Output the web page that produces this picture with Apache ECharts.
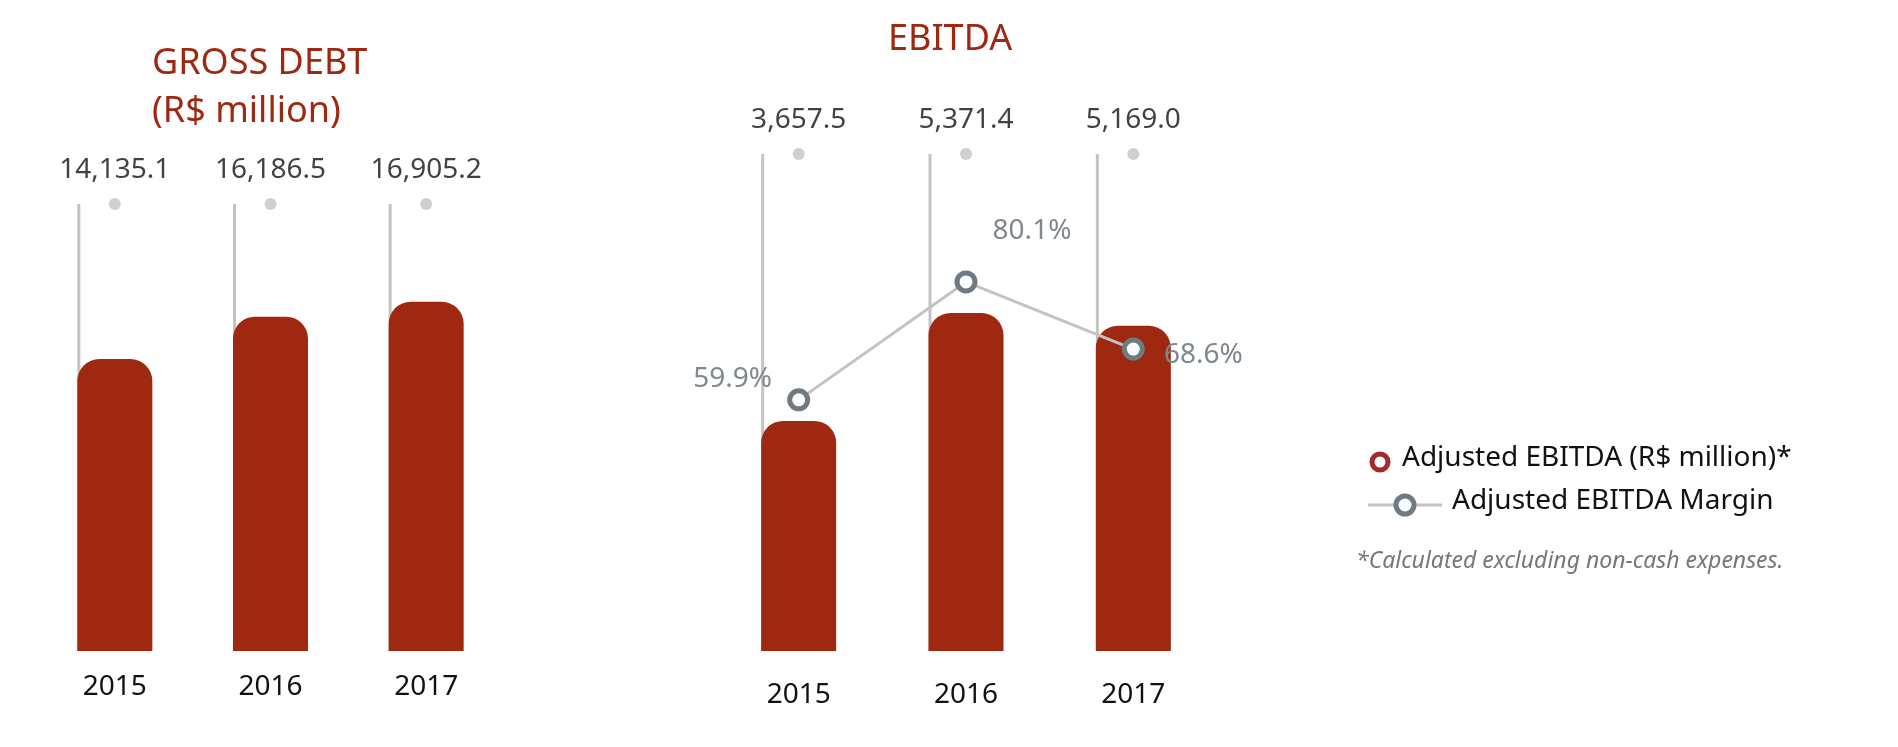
<!DOCTYPE html><html><head><meta charset="utf-8"><script src="https://cdn.jsdelivr.net/npm/echarts@6/dist/echarts.min.js"></script>
<style>html,body{margin:0;background:#fff}#c{width:1898px;height:747px}</style></head><body><div id="c"></div><script>
const years = ['2015','2016','2017'];
const grossDebt = [14135.1, 16186.5, 16905.2];
const ebitda = [3657.5, 5371.4, 5169.0];
const margin = [59.9, 80.1, 68.6];
const fmt = v => v.toLocaleString('en-US',{minimumFractionDigits:1,maximumFractionDigits:1});
const RED='#9e2810', GREY='#c3c3c3', DARK='#6e7a84', F='Noto Sans';
const GDMAX=21640, EBMAX=7900;
const c = echarts.init(document.getElementById('c'));
function stemSeries(xi,yi,max,vals){
  return [
    {type:'bar',xAxisIndex:xi,yAxisIndex:yi,data:vals.map(()=>max),barWidth:3,barGap:'-100%',itemStyle:{color:GREY},silent:true,z:1},
    {type:'scatter',xAxisIndex:xi,yAxisIndex:yi,data:vals.map(()=>max),symbolSize:12,itemStyle:{color:GREY},z:2,
     label:{show:true,position:'top',distance:14,fontFamily:F,fontSize:28,color:'#111',formatter:p=>fmt(vals[p.dataIndex])}}
  ];
}
c.setOption({
  animation:false,
  grid:[{left:37,width:467,top:204,bottom:96},{left:715,width:502,top:154,bottom:96}],
  xAxis:[
    {gridIndex:0,type:'category',data:years,axisLine:{show:false},axisTick:{show:false},axisLabel:{fontFamily:F,fontSize:28,color:'#111',margin:22}},
    {gridIndex:1,type:'category',data:years,axisLine:{show:false},axisTick:{show:false},axisLabel:{fontFamily:F,fontSize:28,color:'#111',margin:30}}
  ],
  yAxis:[
    {gridIndex:0,min:0,max:GDMAX,show:false},
    {gridIndex:1,min:0,max:EBMAX,show:false},
    {gridIndex:1,min:16.9,max:102,show:false}
  ],
  series:[
    ...stemSeries(0,0,GDMAX,grossDebt),
    {type:'bar',xAxisIndex:0,yAxisIndex:0,data:grossDebt,barWidth:75,barGap:'-100%',itemStyle:{color:RED,borderRadius:[22,22,0,0]},z:3},
    ...stemSeries(1,1,EBMAX,ebitda),
    {type:'bar',xAxisIndex:1,yAxisIndex:1,data:ebitda,barWidth:75,barGap:'-100%',itemStyle:{color:RED,borderRadius:[22,22,0,0]},z:3},
    {type:'line',xAxisIndex:1,yAxisIndex:2,data:margin,z:5,symbol:'circle',symbolSize:18,
     lineStyle:{color:GREY,width:3},itemStyle:{color:'#fff',borderColor:DARK,borderWidth:5},
     label:{show:true,fontFamily:F,fontSize:28,color:'#7d8891',formatter:p=>p.value.toFixed(1)+'%'},
     labelLayout:p=>{const i=p.dataIndex;return i===0?{dx:-66,dy:10}:i===1?{dx:66,dy:-20}:{dx:70,dy:36};}}
  ],
  graphic:[
    {type:'text',left:272-120,top:40,style:{text:'GROSS DEBT\n(R$ million)',width:240,align:'center',font:'36px "Noto Sans"',fill:RED,lineHeight:48}},
    {type:'text',left:968-80,top:22,style:{text:'EBITDA',width:160,align:'center',font:'36px "Noto Sans"',fill:RED}},
    {type:'circle',shape:{cx:1380,cy:462,r:8},style:{fill:'#fff',stroke:'#a52a2a',lineWidth:5}},
    {type:'text',left:1402,top:444,style:{text:'Adjusted EBITDA (R$ million)*',font:'28px "Noto Sans"',fill:'#111'}},
    {type:'line',shape:{x1:1368,y1:505,x2:1442,y2:505},style:{stroke:GREY,lineWidth:3}},
    {type:'circle',shape:{cx:1405,cy:505,r:9},style:{fill:'#fff',stroke:DARK,lineWidth:5}},
    {type:'text',left:1452,top:487,style:{text:'Adjusted EBITDA Margin',font:'28px "Noto Sans"',fill:'#111'}},
    {type:'text',left:1356,top:550,style:{text:'*Calculated excluding non-cash expenses.',font:'italic 23px "Noto Sans"',fill:'#777'}}
  ]
});
</script></body></html>
